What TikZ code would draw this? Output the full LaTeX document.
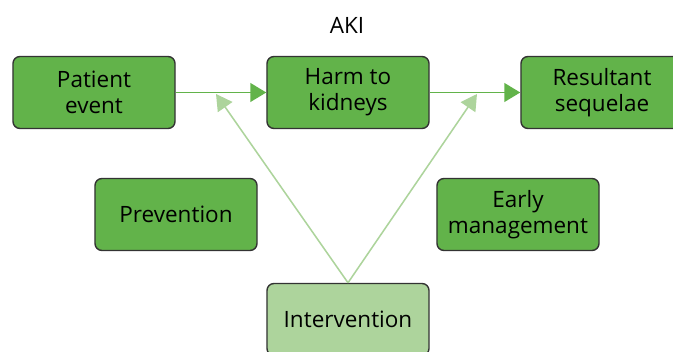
\documentclass[tikz,border=0pt]{standalone}
\usepackage{fontspec}
\setmainfont{Open Sans}
\usepackage{xcolor}
\usetikzlibrary{arrows.meta}
\definecolor{akigreen}{HTML}{62B34A}
\definecolor{akilight}{HTML}{ADD49C}
\definecolor{akiedge}{HTML}{333333}

\begin{document}
\begin{tikzpicture}[x=0.025cm, y=-0.025cm,
		stage/.style={draw=akiedge, line width=1pt, fill=akigreen, rounded corners=5pt,
			minimum width=4.05cm, minimum height=1.8cm, align=center,
			font=\fontsize{16}{18.5}\selectfont},
		flow/.style={draw=akigreen, line width=1.4pt, -{Triangle[length=4mm, width=4.7mm]}},
		hit/.style={draw=akilight, line width=1.1pt, -{Triangle[length=4mm, width=4.4mm]}}]
		\useasboundingbox (0,0) rectangle (673,352);
		\node[font=\fontsize{16}{18}\selectfont] (aki) at (347,25) {AKI};
		\node[stage] (event) at (94,92.5) {Patient\\event};
		\node[stage] (harm) at (348,92.5) {Harm to\\kidneys};
		\node[stage] (sequel) at (602,92.5) {Resultant\\sequelae};
		\node[stage] (prev) at (176,214.5) {Prevention};
		\node[stage] (early) at (518,214.5) {Early\\management};
		\node[stage, fill=akilight] (interv) at (348,319.5) {Intervention};
		\coordinate (hitleft) at (216,94);
		\coordinate (hitright) at (477,94);
		\draw[flow] (event) -- (harm);
		\draw[flow] (harm) -- (sequel);
		\draw[hit] (interv.north) -- (hitleft);
		\draw[hit] (interv.north) -- (hitright);
	\end{tikzpicture}
\end{document}
